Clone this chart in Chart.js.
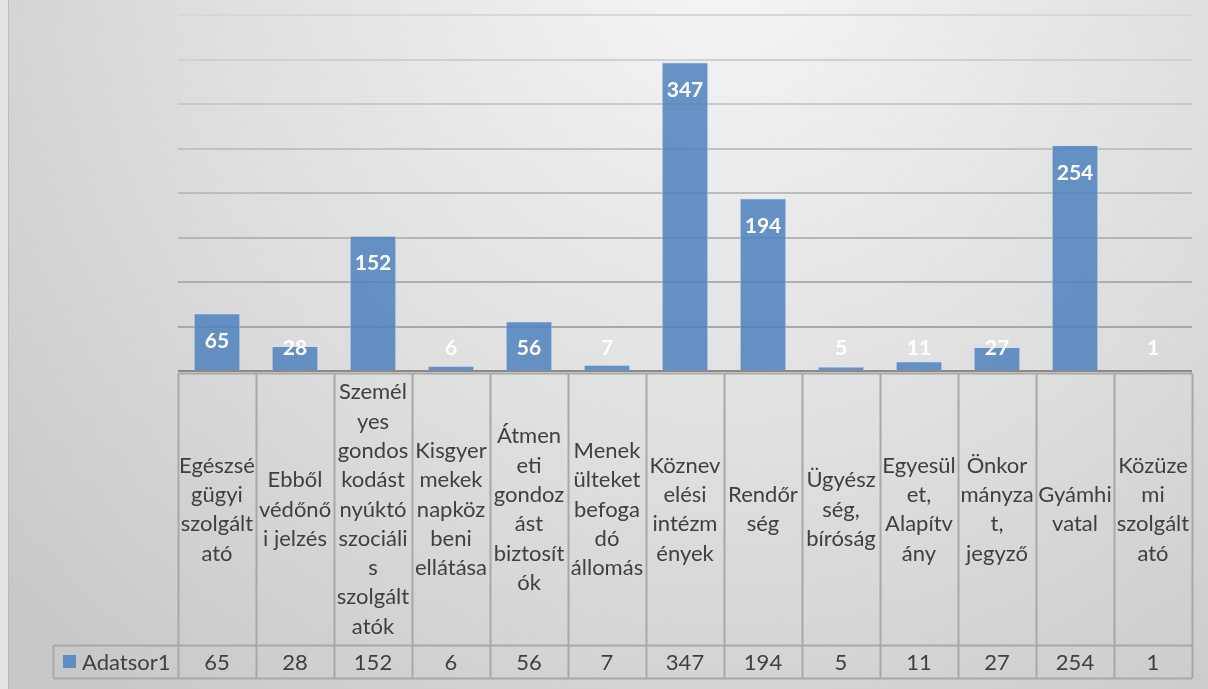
<!DOCTYPE html>
<html>
<head>
<meta charset="utf-8">
<script src="https://cdn.jsdelivr.net/npm/chart.js@4.4.0/dist/chart.umd.min.js"></script>
<style>
  html, body { margin: 0; padding: 0; background: #fff; }
  canvas { display: block; }
</style>
</head>
<body>
<canvas id="myGraf" width="1208" height="689"></canvas>
<script>
// categories, already wrapped the way the table shows them
var categories = [
    ['Egészsé', 'gügyi', 'szolgált', 'ató'],
    ['Ebből', 'védőnő', 'i jelzés'],
    ['Személ', 'yes', 'gondos', 'kodást', 'nyúktó', 'szociáli', 's', 'szolgált', 'atók'],
    ['Kisgyer', 'mekek', 'napköz', 'beni', 'ellátása'],
    ['Átmen', 'eti', 'gondoz', 'ást', 'biztosít', 'ók'],
    ['Menek', 'ülteket', 'befoga', 'dó', 'állomás'],
    ['Köznev', 'elési', 'intézm', 'ények'],
    ['Rendőr', 'ség'],
    ['Ügyész', 'ség,', 'bíróság'],
    ['Egyesül', 'et,', 'Alapítv', 'ány'],
    ['Önkor', 'mányza', 't,', 'jegyző'],
    ['Gyámhi', 'vatal'],
    ['Közüze', 'mi', 'szolgált', 'ató']
];
var seriesName = 'Adatsor1';
var values = [65, 28, 152, 6, 56, 7, 347, 194, 5, 11, 27, 254, 1];
var yTicks = [0, 50, 100, 150, 200, 250, 300, 350, 400];

var barColor = 'rgba(79, 129, 189, 0.85)';
var textColor = '#404040';
var tableFont = '22px Lato, "Open Sans", sans-serif';

// fond dégradé gris
var fondPlugin = {
    id: 'fond',
    beforeDraw: function(chart) {
        var ctx = chart.ctx;
        var g = ctx.createRadialGradient(720, -40, 0, 720, -40, 950);
        g.addColorStop(0, '#f5f5f5');
        g.addColorStop(0.55, '#dedede');
        g.addColorStop(1, '#c8c8c8');
        ctx.save();
        ctx.fillStyle = '#e4e4e4';
        ctx.fillRect(0, 0, chart.width, chart.height);
        ctx.fillStyle = g;
        ctx.fillRect(9, 0, chart.width - 9, chart.height);
        ctx.fillStyle = '#bcbcbc';
        ctx.fillRect(8, 0, 1, chart.height);
        ctx.restore();
    }
};

// table de données sous l'axe + étiquettes des barres
var tablePlugin = {
    id: 'table',
    afterDatasetsDraw: function(chart) {
        var ctx = chart.ctx;
        var x = chart.scales.x;
        var area = chart.chartArea;
        var n = chart.data.labels.length;
        var w = (area.right - area.left) / n;
        var top = area.bottom + 2.5;
        var rowY = 645.5;
        var bottom = 678.5;
        var legendLeft = 53.5;

        ctx.save();

        // étiquettes des barres
        var meta = chart.getDatasetMeta(0);
        ctx.font = 'bold 21px Lato, "Open Sans", sans-serif';
        ctx.fillStyle = '#ffffff';
        ctx.textAlign = 'center';
        ctx.textBaseline = 'middle';
        meta.data.forEach(function(bar, i) {
            var y = Math.min(bar.y + 27, area.bottom - 24);
            ctx.fillText(String(chart.data.datasets[0].data[i]), bar.x, y + 1);
        });

        // axe
        ctx.strokeStyle = '#8a8a8a';
        ctx.lineWidth = 2;
        ctx.beginPath();
        ctx.moveTo(area.left, area.bottom);
        ctx.lineTo(area.right, area.bottom);
        ctx.stroke();

        // lignes de la table
        ctx.strokeStyle = '#a8a8a8';
        ctx.lineWidth = 2;
        ctx.beginPath();
        ctx.moveTo(area.left, top);
        ctx.lineTo(area.right, top);
        ctx.moveTo(legendLeft, rowY);
        ctx.lineTo(area.right, rowY);
        ctx.moveTo(legendLeft, bottom);
        ctx.lineTo(area.right, bottom);
        ctx.moveTo(legendLeft, rowY);
        ctx.lineTo(legendLeft, bottom);
        for (var k = 0; k <= n; k++) {
            var xx = Math.round(area.left + k * w) + 0.5;
            ctx.moveTo(xx, top);
            ctx.lineTo(xx, bottom);
        }
        ctx.stroke();

        // textes des catégories et valeurs
        ctx.font = tableFont;
        ctx.fillStyle = textColor;
        var lineH = 29.3;
        var midY = (top + rowY) / 2;
        chart.data.labels.forEach(function(lines, i) {
            var cx = x.getPixelForValue(i);
            var y0 = midY - (lines.length - 1) * lineH / 2;
            lines.forEach(function(line, j) {
                ctx.fillText(line, cx, y0 + j * lineH);
            });
            ctx.fillText(String(chart.data.datasets[0].data[i]), cx, (rowY + bottom) / 2 + 1);
        });

        // légende
        ctx.fillStyle = barColor;
        ctx.fillRect(63, 655, 13, 13);
        ctx.fillStyle = textColor;
        ctx.textAlign = 'left';
        ctx.fillText(seriesName, 82, (rowY + bottom) / 2 + 1);

        ctx.restore();
    }
};

var ctx = document.getElementById('myGraf').getContext('2d');
var myGraf = new Chart(ctx, {
    type: 'bar',
    data: {
        labels: categories,
        datasets: [{
            label: seriesName,
            data: values,
            backgroundColor: barColor,
            borderColor: 'rgba(210, 225, 245, 0.8)',
            borderWidth: 1,
            barPercentage: 0.6,
            categoryPercentage: 1
        }]
    },
    options: {
        responsive: false,
        animation: false,
        devicePixelRatio: 1,
        layout: {
            padding: { left: 178, right: 16, top: 15, bottom: 318 }
        },
        plugins: {
            legend: { display: false },
            tooltip: { enabled: false }
        },
        scales: {
            x: {
                display: false
            },
            y: {
                min: yTicks[0],
                max: yTicks[yTicks.length - 1],
                afterBuildTicks: function(scale) {
                    scale.ticks = yTicks.map(function(v) { return { value: v }; });
                },
                afterFit: function(scale) {
                    scale.width = 0;
                },
                ticks: { display: false },
                border: { display: false },
                grid: {
                    drawTicks: false,
                    lineWidth: 2,
                    color: function(c) {
                        var t = c.tick ? c.tick.value / 400 : 0;
                        var v = Math.round(160 + t * 55);
                        return 'rgb(' + v + ',' + v + ',' + v + ')';
                    }
                }
            }
        }
    },
    plugins: [fondPlugin, tablePlugin]
});
</script>
</body>
</html>
